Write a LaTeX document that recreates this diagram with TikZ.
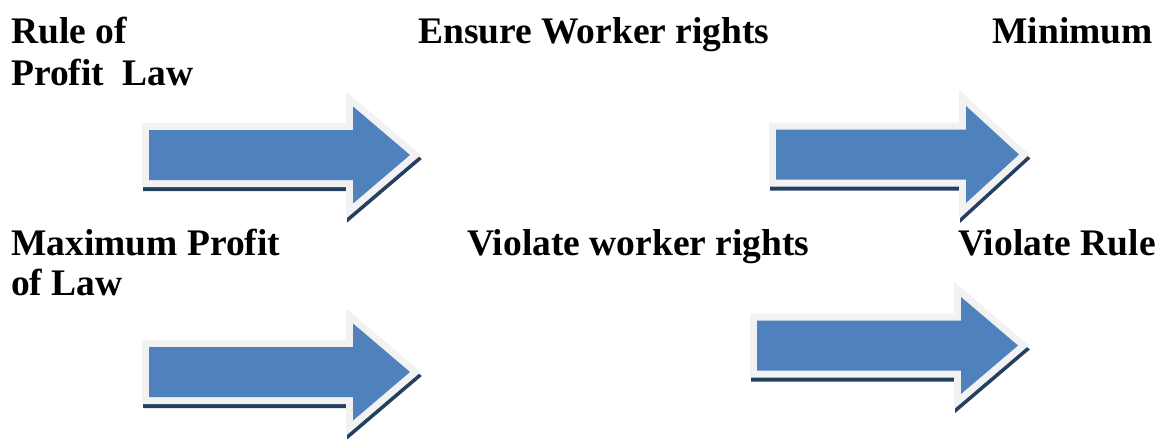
\documentclass[tikz,border=0pt]{standalone}
\usepackage{fontspec}
\setmainfont{Liberation Serif}
\definecolor{arrowblue}{HTML}{4F81BD}
\definecolor{arrowrim}{HTML}{F2F2F2}
\definecolor{arrowshade}{HTML}{243F60}
% block arrow: #1 left x, #2 centre y, #3 x of head base, #4 tip x
\newcommand\blockarrowpath[4]{(#1,{#2-25}) -- (#3,{#2-25}) -- (#3,{#2-48.5}) -- (#4,#2) -- (#3,{#2+48.5}) -- (#3,{#2+25}) -- (#1,{#2+25}) -- cycle}
\newcommand\blockarrow[4]{%
  \filldraw[arrowshade, line width=14pt, line join=miter, shift={(1,4)}] \blockarrowpath{#1}{#2}{#3}{#4};
  \draw[arrowrim, line width=14pt, line join=miter] \blockarrowpath{#1}{#2}{#3}{#4};
  \fill[arrowblue] \blockarrowpath{#1}{#2}{#3}{#4};
}
\tikzset{
  label/.style={inner sep=0pt, font=\bfseries\fontsize{37.5}{42}\selectfont, text=black}
}
\begin{document}
\begin{tikzpicture}[x=1pt, y=-1pt]
  \useasboundingbox (0,0) rectangle (1165,439);

  % arrows
  \blockarrow{149}{155}{353}{410}
  \blockarrow{776}{154.5}{966}{1019}
  \blockarrow{149}{372}{353}{410}
  \blockarrow{757}{345.5}{961}{1018}

  % labels
  \node[label, anchor=base west] (rule1) at (11,43) {Rule of};
  \node[label, anchor=base west] (rule2) at (11,85) {Profit\ \ Law};
  \node[label, anchor=base west] (ensure) at (418,43) {Ensure Worker rights};
  \node[label, anchor=base east] (minimum) at (1153,43) {Minimum};
  \node[label, anchor=base west] (max1) at (11,255) {Maximum Profit};
  \node[label, anchor=base west] (max2) at (11,295) {of Law};
  \node[label, anchor=base west] (violate) at (467,255) {Violate worker rights};
  \node[label, anchor=base west] (violrule) at (958,255) {Violate Rule};
\end{tikzpicture}
\end{document}
